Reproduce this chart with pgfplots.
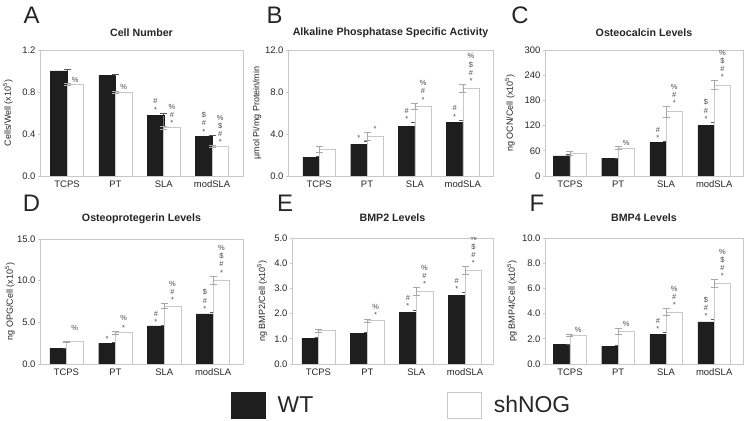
\documentclass[border=0pt]{standalone}
\usepackage{pgfplots}
\usepackage{pgfplotstable}
\pgfplotsset{compat=1.18}
\usepackage{fontspec}
\setmainfont{Liberation Sans}
\definecolor{barblack}{HTML}{1E1E1E}
\definecolor{axgray}{HTML}{C8C8C8}
\definecolor{errgray}{HTML}{A8A8A8}
\definecolor{txt}{HTML}{262626}

\pgfplotstableread{
x wt wte sh she
0 1.00 0.02 0.87 0.01
1 0.96 0.005 0.80 0.01
2 0.58 0.02 0.46 0.012
3 0.38 0.01 0.28 0.01
}\dataA
\pgfplotstableread{
x wt wte sh she
0 1.80 0.10 2.57 0.30
1 3.03 0.30 3.80 0.35
2 4.76 0.35 6.65 0.30
3 5.12 0.20 8.37 0.35
}\dataB
\pgfplotstableread{
x wt wte sh she
0 48 3 54 4
1 42 1 67 3
2 80 2 153 12
3 120 8 217 10
}\dataC
\pgfplotstableread{
x wt wte sh she
0 1.89 0.05 2.69 0.10
1 2.49 0.10 3.77 0.15
2 4.56 0.10 6.96 0.30
3 6.00 0.20 10.05 0.50
}\dataD
\pgfplotstableread{
x wt wte sh she
0 1.03 0.05 1.32 0.07
1 1.23 0.03 1.72 0.07
2 2.05 0.10 2.88 0.15
3 2.73 0.10 3.72 0.15
}\dataE
\pgfplotstableread{
x wt wte sh she
0 1.55 0.05 2.30 0.10
1 1.39 0.08 2.62 0.25
2 2.35 0.15 4.14 0.25
3 3.34 0.20 6.39 0.30
}\dataF

\pgfplotsset{
 panel/.style={
  scale only axis, anchor=south west,
  ymin=0,
  axis line style={axgray, line width=0.6pt},
  xtick={0,1,2,3}, xticklabels={TCPS,PT,SLA,modSLA},
  ytick pos=left, xtick pos=bottom,
  tick align=outside,
  major x tick style={draw=none},
  major y tick style={axgray, line width=0.6pt},
  major tick length=2bp,
  /pgf/number format/assume math mode=true,
  tick label style={font=\fontsize{9.5}{10}\selectfont, text=txt},
  xticklabel style={yshift=1bp},
  yticklabel style={xshift=1bp},
  title style={font=\bfseries\fontsize{10.7}{12}\selectfont, text=txt, at={(0.5,1)}, anchor=center, yshift=11bp},
  ylabel style={font=\fontsize{9}{10}\selectfont, text=txt},
  bar width=0.34,
 },
 dec1/.style={yticklabel style={/pgf/number format/.cd, fixed, fixed zerofill, precision=1}},
 wtbar/.style={ybar, fill=barblack, draw=barblack, bar shift=-0.17,
   error bars/.cd, y dir=plus, y explicit,
   error bar style={black!65, line width=0.5pt},
   error mark options={rotate=90, mark size=3.5bp, black!65, line width=0.5pt}},
 shbar/.style={ybar, fill=white, draw=axgray, line width=0.6pt, bar shift=0.17,
   error bars/.cd, y dir=both, y explicit,
   error bar style={errgray, line width=0.5pt},
   error mark options={rotate=90, mark size=3.5bp, errgray, line width=0.5pt}},
}
\newcommand{\ann}[3]{\node[anchor=south, font=\fontsize{7.5}{8.2}\selectfont, align=center, inner sep=0.8pt, text=black!70] at (axis cs:#1,#2) {#3};}
\newcommand{\lett}[3]{\node[font=\fontsize{24}{26}\selectfont, text=txt] at (#1bp,#2bp) {#3};}

\begin{document}
\begin{tikzpicture}
\useasboundingbox (0,0) rectangle (748bp,421bp);

% A
\begin{axis}[panel, dec1, at={(40bp,245bp)}, width=203bp, height=126bp,
  xmin=-0.56, xmax=3.64, ymax=1.2, ytick={0,0.4,0.8,1.2},
  title={Cell Number}, ylabel={Cells/Well (x10\textsuperscript{5})},
  ylabel style={at={(axis description cs:-0.158,0.5)}, anchor=center}]
\addplot[wtbar] table[x=x, y=wt, y error=wte] {\dataA};
\addplot[shbar] table[x=x, y=sh, y error=she] {\dataA};
\ann{0.17}{0.88}{\%}
\ann{1.17}{0.81}{\%}
\ann{1.83}{0.60}{\#\\*}
\ann{2.17}{0.472}{\%\\\#\\*}
\ann{2.83}{0.39}{\$\\\#\\*}
\ann{3.17}{0.29}{\%\\\$\\\#\\*}
\end{axis}

% B
\begin{axis}[panel, dec1, at={(288bp,245bp)}, width=205bp, height=126bp,
  xmin=-0.65, xmax=3.63, ymax=12, ytick={0,4,8,12},
  title={Alkaline Phosphatase Specific Activity}, ylabel={µmol Pi/mg Protein/min},
  ylabel style={at={(axis description cs:-0.151,0.5)}, anchor=center}]
\addplot[wtbar] table[x=x, y=wt, y error=wte] {\dataB};
\addplot[shbar] table[x=x, y=sh, y error=she] {\dataB};
\ann{0.83}{3.33}{*}
\ann{1.17}{4.15}{*}
\ann{1.83}{5.11}{\#\\*}
\ann{2.17}{6.95}{\%\\\#\\*}
\ann{2.83}{5.32}{\#\\*}
\ann{3.17}{8.72}{\%\\\$\\\#\\*}
\end{axis}

% C
\begin{axis}[panel, at={(545bp,245bp)}, width=198bp, height=126bp,
  xmin=-0.52, xmax=3.6, ymax=300, ytick={0,60,120,180,240,300},
  title={Osteocalcin Levels}, ylabel={ng OCN/Cell (x10\textsuperscript{5})},
  ylabel style={at={(axis description cs:-0.177,0.5)}, anchor=center}]
\addplot[wtbar] table[x=x, y=wt, y error=wte] {\dataC};
\addplot[shbar] table[x=x, y=sh, y error=she] {\dataC};
\ann{1.17}{70}{\%}
\ann{1.83}{82}{\#\\*}
\ann{2.17}{165}{\%\\\#\\*}
\ann{2.83}{128}{\$\\\#\\*}
\ann{3.17}{227}{\%\\\$\\\#\\*}
\end{axis}

% D
\begin{axis}[panel, dec1, at={(40bp,57bp)}, width=203bp, height=125bp,
  xmin=-0.54, xmax=3.61, ymax=15, ytick={0,5,10,15},
  title={Osteoprotegerin Levels}, title style={yshift=3bp}, ylabel={ng OPG/Cell (x10\textsuperscript{5})},
  ylabel style={at={(axis description cs:-0.148,0.5)}, anchor=center},
  legend columns=2,
  legend style={draw=none, fill=none, inner sep=0pt, at={(axis description cs:0.941,-0.33)}, anchor=west,
    font=\fontsize{23}{25}\selectfont, text=txt,
    nodes={inner sep=0pt},
    /tikz/every odd column/.append style={column sep=12bp},
    /tikz/every even column/.append style={column sep=134bp}},
  legend image code/.code={\draw[#1] (0bp,-13bp) rectangle (34bp,13bp);}]
\addplot[wtbar] table[x=x, y=wt, y error=wte] {\dataD};
\addlegendentry{WT}
\addplot[shbar] table[x=x, y=sh, y error=she] {\dataD};
\addlegendentry{shNOG}
\ann{0.17}{2.79}{\%\\[1.5bp]}
\ann{0.83}{2.59}{*}
\ann{1.17}{3.92}{\%\\[1.5bp]*}
\ann{1.83}{4.66}{\#\\*}
\ann{2.17}{7.26}{\%\\\#\\*}
\ann{2.83}{6.2}{\$\\\#\\*}
\ann{3.17}{10.55}{\%\\\$\\\#\\*}
\end{axis}

% E
\begin{axis}[panel, dec1, at={(292bp,57bp)}, width=201bp, height=126bp,
  xmin=-0.54, xmax=3.57, ymax=5, ytick={0,1,2,3,4,5},
  title={BMP2 Levels}, title style={yshift=3bp}, ylabel={ng BMP2/Cell (x10\textsuperscript{5})},
  ylabel style={at={(axis description cs:-0.149,0.5)}, anchor=center}]
\addplot[wtbar] table[x=x, y=wt, y error=wte] {\dataE};
\addplot[shbar] table[x=x, y=sh, y error=she] {\dataE};
\ann{1.17}{1.79}{\%\\*}
\ann{1.83}{2.15}{\#\\*}
\ann{2.17}{3.03}{\%\\\#\\*}
\ann{2.83}{2.83}{\#\\*}
\ann{3.17}{3.87}{\%\\\$\\\#\\*}
\end{axis}

% F
\begin{axis}[panel, dec1, at={(545bp,57bp)}, width=198bp, height=126bp,
  xmin=-0.52, xmax=3.6, ymax=10, ytick={0,2,4,6,8,10},
  title={BMP4 Levels}, title style={yshift=3bp}, ylabel={pg BMP4/Cell (x10\textsuperscript{5})},
  ylabel style={at={(axis description cs:-0.167,0.5)}, anchor=center}]
\addplot[wtbar] table[x=x, y=wt, y error=wte] {\dataF};
\addplot[shbar] table[x=x, y=sh, y error=she] {\dataF};
\ann{0.17}{2.40}{\%}
\ann{1.17}{2.87}{\%}
\ann{1.83}{2.50}{\#\\*}
\ann{2.17}{4.39}{\%\\\#\\*}
\ann{2.83}{3.54}{\$\\\#\\*}
\ann{3.17}{6.69}{\%\\\$\\\#\\*}
\end{axis}

\lett{31.5}{406}{A}
\lett{274.5}{406}{B}
\lett{520}{406}{C}
\lett{31.5}{218}{D}
\lett{285}{218}{E}
\lett{537}{218}{F}
\end{tikzpicture}
\end{document}
